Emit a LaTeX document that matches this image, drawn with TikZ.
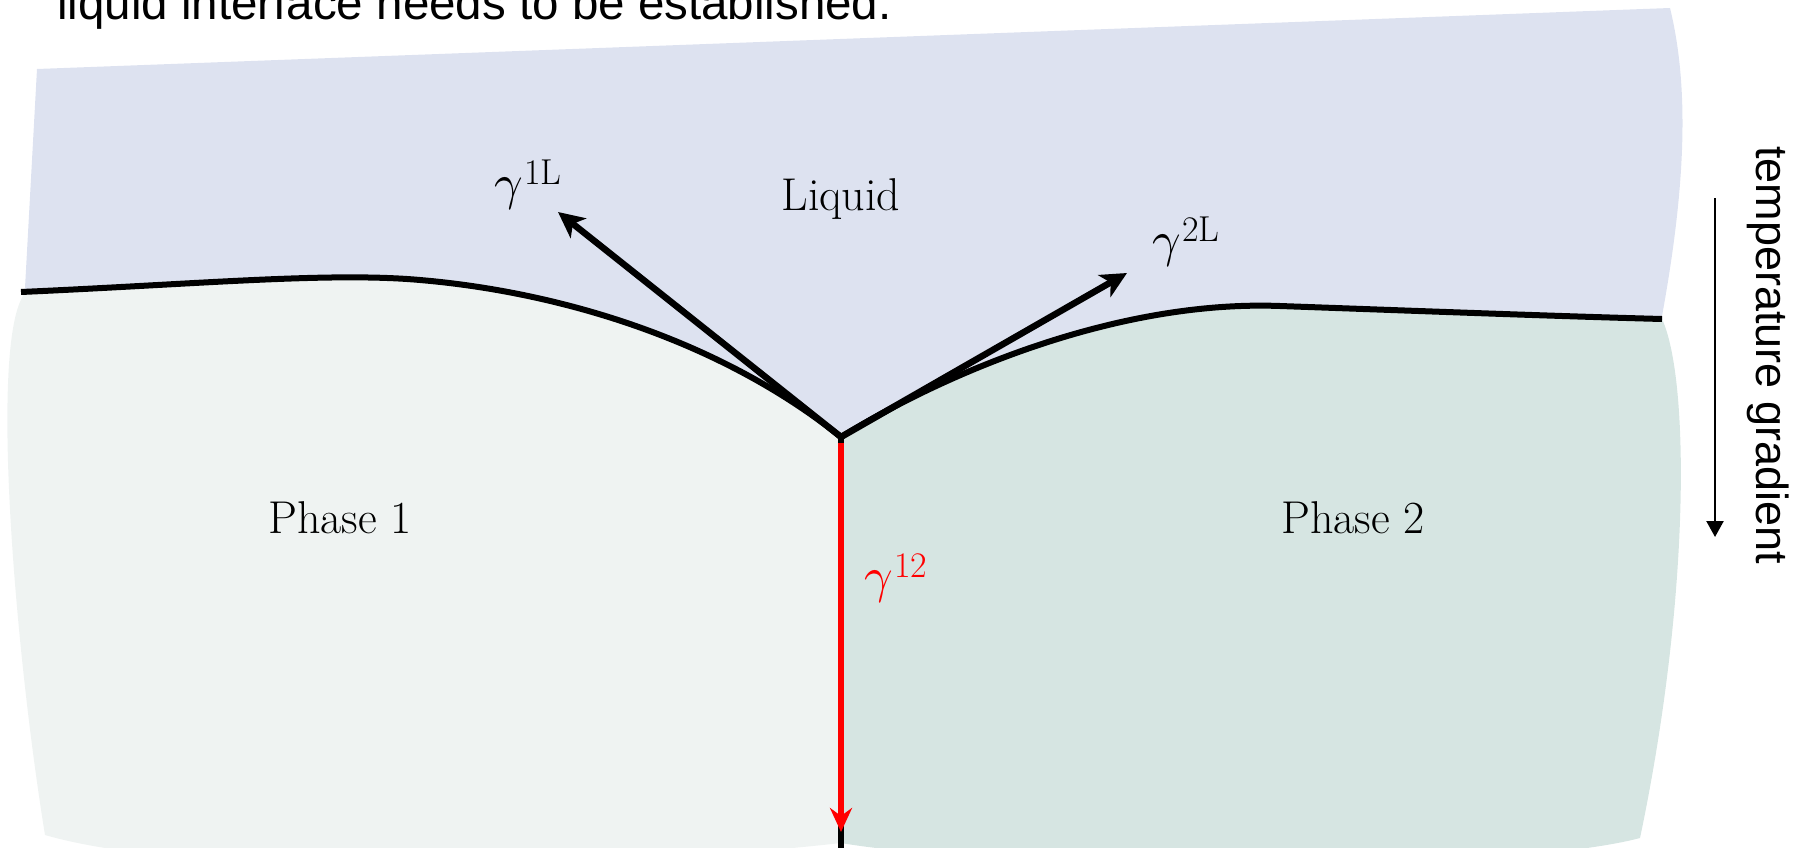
\documentclass[tikz,border=0pt]{standalone}
\usepackage{graphicx}
\usepackage{fontspec}
\newfontfamily\arialfont{Liberation Sans}
\usetikzlibrary{arrows.meta}
\definecolor{liquidc}{RGB}{221,226,240}
\definecolor{phaseone}{RGB}{239,243,242}
\definecolor{phasetwo}{RGB}{214,229,226}
\newcommand{\gammalab}[1]{\scalebox{5}{\normalsize$\gamma$}\kern1.5pt\raisebox{15pt}{\fontsize{36}{40}\selectfont #1}}
\begin{document}
\begin{tikzpicture}[x=1pt,y=-1pt,
  iface/.style={line width=6pt, black, line join=miter},
  vec/.style={line width=6.5pt, -{Stealth[length=26pt,width=25pt,inset=7pt]}},
  redvec/.style={line width=5.5pt, red, -{Stealth[length=24pt,width=22pt,inset=8pt]}},
  gradarrow/.style={line width=2.3pt, -{Triangle[length=16pt,width=17pt]}},
  lbl/.style={font=\fontsize{46}{52}\selectfont, inner sep=0pt},
  glbl/.style={inner sep=0pt},
  sans/.style={font=\arialfont\fontsize{47.5}{54}\selectfont, inner sep=0pt}]
\useasboundingbox (0,0) rectangle (1795,848);
\clip (0,0) rectangle (1795,848);
% key points
\coordinate (J) at (841,437);
\coordinate (IL) at (21,292);
\coordinate (IR) at (1662,319);
\coordinate (B) at (841,860);
\coordinate (R0) at (841,443);
\coordinate (T1) at (558,212);
\coordinate (T2) at (1127,273);
\coordinate (T3) at (841,832);
\coordinate (G0) at (1715,198);
\coordinate (G1) at (1715,537);
% liquid
\fill[liquidc] (37,69) -- (1670,8) .. controls (1690,90) and (1685,190) .. (1662,316) -- (IR)
  .. controls (1550,316) and (1420,311) .. (1280,306)
  .. controls (1120,300) and (950,370) .. (J)
  .. controls (720,340) and (560,292) .. (420,280)
  .. controls (330,272) and (200,284) .. (IL) -- (25,288) -- cycle;
% phase 1
\fill[phaseone] (IL) .. controls (200,284) and (330,272) .. (420,280)
  .. controls (560,292) and (720,340) .. (J) -- (841,843)
  .. controls (600,870) and (200,880) .. (45,835)
  .. controls (15,650) and (-10,350) .. (23,296) -- cycle;
% phase 2
\fill[phasetwo] (J) .. controls (950,370) and (1120,300) .. (1280,306)
  .. controls (1420,311) and (1550,316) .. (IR)
  .. controls (1690,380) and (1690,600) .. (1640,838)
  .. controls (1500,875) and (1000,870) .. (841,843) -- cycle;
% grain boundary
\draw[iface] (J) -- (B);
% solid-liquid interface
\draw[iface] (IL) .. controls (200,284) and (330,272) .. (420,280)
  .. controls (560,292) and (720,340) .. (J)
  .. controls (950,370) and (1120,300) .. (1280,306)
  .. controls (1420,311) and (1550,316) .. (IR);
% tension vectors
\draw[vec] (J) -- (T1);
\draw[vec] (J) -- (T2);
\draw[redvec] (R0) -- (T3);
% temperature gradient
\draw[gradarrow] (G0) -- (G1);
% labels
\node[lbl, anchor=base] (liq) at (841,210) {Liquid};
\node[lbl, anchor=base] (p1) at (340,533) {Phase 1};
\node[lbl, anchor=base] (p2) at (1353,533) {Phase 2};
\node[glbl, anchor=base west] (g1L) at (494,199) {\gammalab{1L}};
\node[glbl, anchor=base west] (g2L) at (1152,256) {\gammalab{2L}};
\node[glbl, anchor=base west, text=red] (g12) at (864,592) {\gammalab{12}};
\node[sans, anchor=base west] (top) at (57,20) {liquid interface needs to be established.};
\node[sans, font=\arialfont\fontsize{45}{50}\selectfont, rotate=-90, anchor=base] (tg) at (1756,355) {temperature gradient};
\end{tikzpicture}
\end{document}
